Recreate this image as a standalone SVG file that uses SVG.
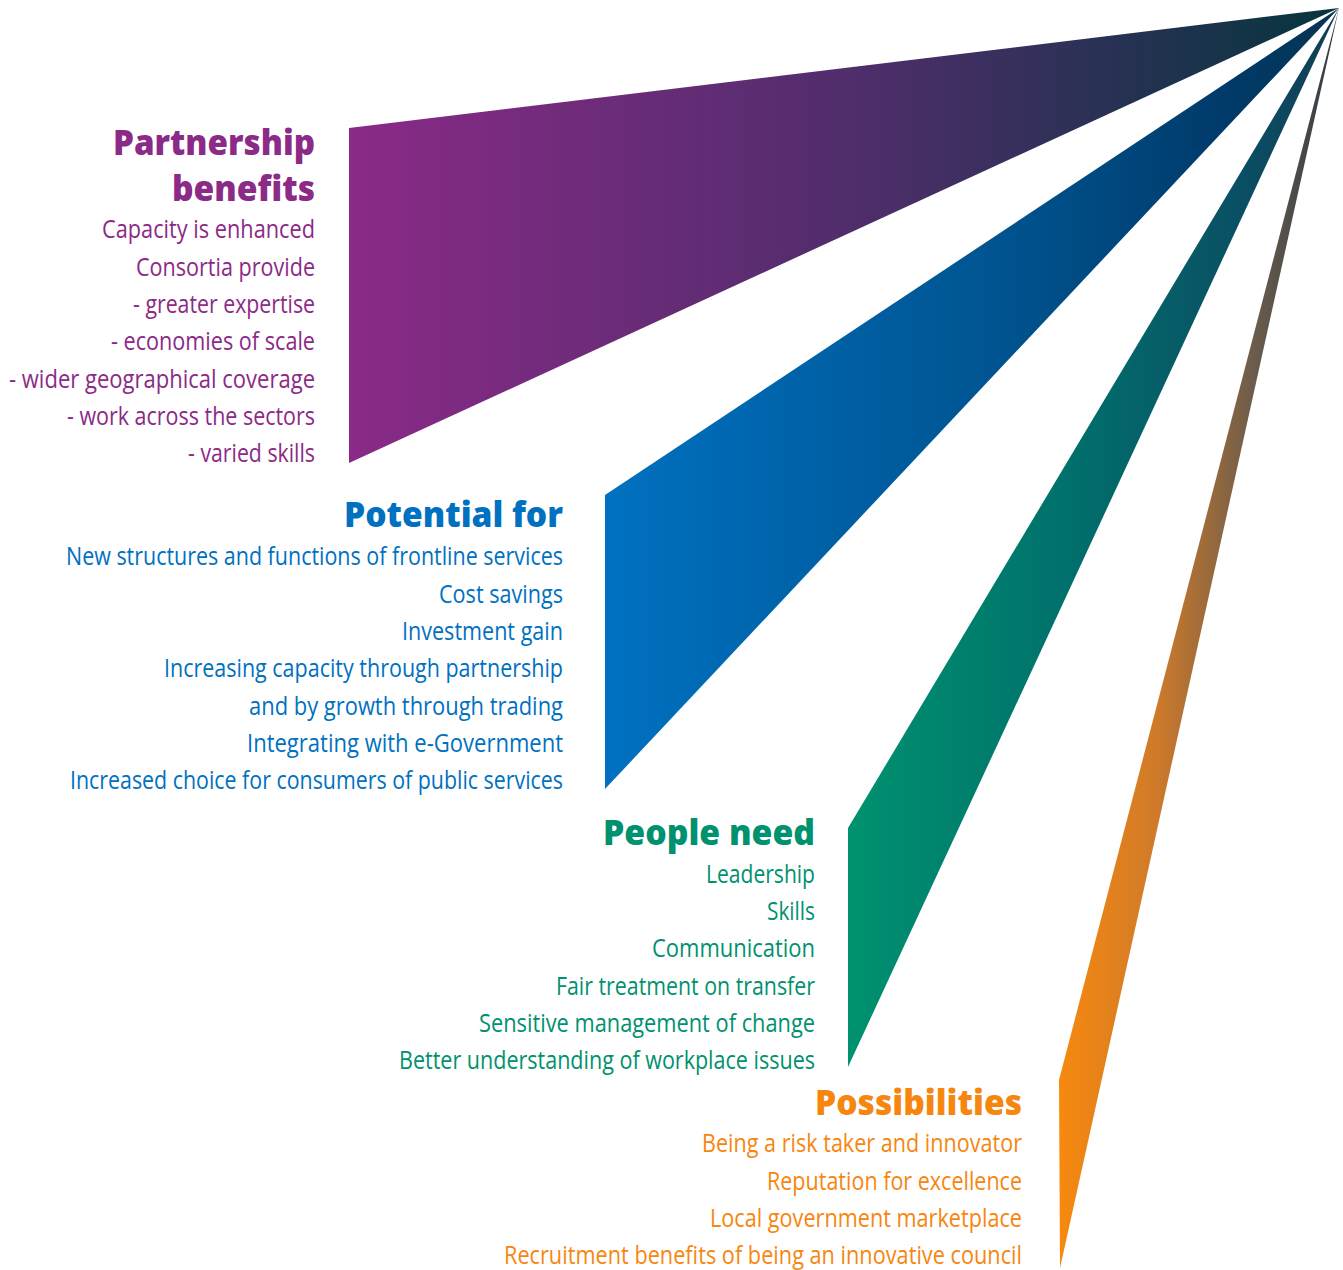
<svg xmlns="http://www.w3.org/2000/svg" width="1343" height="1270" viewBox="0 0 1343 1270">
<style>
text{font-family:"Open Sans","Noto Sans","Liberation Sans",sans-serif}
.t{font-size:36px;font-weight:800}
.b{font-size:25px;font-weight:400}
.p{fill:#8B2A87}
.bl{fill:#0071C1}
.g{fill:#00916F}
.o{fill:#F7860F}
</style>
<defs>
<linearGradient id="gp" gradientUnits="userSpaceOnUse" x1="349" y1="0" x2="1339" y2="0">
<stop offset="0" stop-color="#8A2A87"/>
<stop offset="0.5" stop-color="#512D6C"/>
<stop offset="1" stop-color="#05353E"/>
</linearGradient>
<linearGradient id="gb" gradientUnits="userSpaceOnUse" x1="605" y1="0" x2="1339" y2="0">
<stop offset="0" stop-color="#0071C1"/>
<stop offset="0.55" stop-color="#00538F"/>
<stop offset="0.85" stop-color="#003A69"/>
<stop offset="1" stop-color="#06344F"/>
</linearGradient>
<linearGradient id="gg" gradientUnits="userSpaceOnUse" x1="848" y1="0" x2="1339" y2="0">
<stop offset="0" stop-color="#00926F"/>
<stop offset="0.45" stop-color="#00706C"/>
<stop offset="0.8" stop-color="#0A4F64"/>
<stop offset="1" stop-color="#123C55"/>
</linearGradient>
<linearGradient id="go" gradientUnits="userSpaceOnUse" x1="1059" y1="0" x2="1339" y2="0">
<stop offset="0" stop-color="#F7890E"/>
<stop offset="0.35" stop-color="#CF7A2A"/>
<stop offset="0.7" stop-color="#6A5C4C"/>
<stop offset="1" stop-color="#2C3946"/>
</linearGradient>
</defs>

<g id="partnership-benefits">
<polygon points="349,128 1339,8 349,463" fill="url(#gp)"/>
<text class="t p" x="113" y="155" textLength="202" lengthAdjust="spacingAndGlyphs">Partnership</text>
<text class="t p" x="172" y="201" textLength="143" lengthAdjust="spacingAndGlyphs">benefits</text>
<text class="b p" x="102" y="238" textLength="213" lengthAdjust="spacingAndGlyphs">Capacity is enhanced</text>
<text class="b p" x="136" y="276" textLength="179" lengthAdjust="spacingAndGlyphs">Consortia provide</text>
<text class="b p" x="133" y="313" textLength="182" lengthAdjust="spacingAndGlyphs">- greater expertise</text>
<text class="b p" x="111" y="350" textLength="204" lengthAdjust="spacingAndGlyphs">- economies of scale</text>
<text class="b p" x="9" y="388" textLength="306" lengthAdjust="spacingAndGlyphs">- wider geographical coverage</text>
<text class="b p" x="67" y="425" textLength="248" lengthAdjust="spacingAndGlyphs">- work across the sectors</text>
<text class="b p" x="188" y="462" textLength="127" lengthAdjust="spacingAndGlyphs">- varied skills</text>
</g>

<g id="potential-for">
<polygon points="605,495 1339,8 605,789" fill="url(#gb)"/>
<text class="t bl" x="344" y="527" textLength="219" lengthAdjust="spacingAndGlyphs">Potential for</text>
<text class="b bl" x="66" y="565" textLength="497" lengthAdjust="spacingAndGlyphs">New structures and functions of frontline services</text>
<text class="b bl" x="439" y="603" textLength="124" lengthAdjust="spacingAndGlyphs">Cost savings</text>
<text class="b bl" x="402" y="640" textLength="161" lengthAdjust="spacingAndGlyphs">Investment gain</text>
<text class="b bl" x="164" y="677" textLength="399" lengthAdjust="spacingAndGlyphs">Increasing capacity through partnership</text>
<text class="b bl" x="249" y="715" textLength="314" lengthAdjust="spacingAndGlyphs">and by growth through trading</text>
<text class="b bl" x="247" y="752" textLength="316" lengthAdjust="spacingAndGlyphs">Integrating with e-Government</text>
<text class="b bl" x="70" y="789" textLength="493" lengthAdjust="spacingAndGlyphs">Increased choice for consumers of public services</text>
</g>

<g id="people-need">
<polygon points="848,828 1339,8 848,1067" fill="url(#gg)"/>
<text class="t g" x="603" y="845" textLength="212" lengthAdjust="spacingAndGlyphs">People need</text>
<text class="b g" x="706" y="883" textLength="109" lengthAdjust="spacingAndGlyphs">Leadership</text>
<text class="b g" x="767" y="920" textLength="48" lengthAdjust="spacingAndGlyphs">Skills</text>
<text class="b g" x="652" y="957" textLength="163" lengthAdjust="spacingAndGlyphs">Communication</text>
<text class="b g" x="556" y="995" textLength="259" lengthAdjust="spacingAndGlyphs">Fair treatment on transfer</text>
<text class="b g" x="479" y="1032" textLength="336" lengthAdjust="spacingAndGlyphs">Sensitive management of change</text>
<text class="b g" x="399" y="1069" textLength="416" lengthAdjust="spacingAndGlyphs">Better understanding of workplace issues</text>
</g>

<g id="possibilities">
<polygon points="1059,1080 1339,8 1060,1268" fill="url(#go)"/>
<text class="t o" x="815" y="1115" textLength="207" lengthAdjust="spacingAndGlyphs">Possibilities</text>
<text class="b o" x="702" y="1152" textLength="320" lengthAdjust="spacingAndGlyphs">Being a risk taker and innovator</text>
<text class="b o" x="767" y="1190" textLength="255" lengthAdjust="spacingAndGlyphs">Reputation for excellence</text>
<text class="b o" x="710" y="1227" textLength="312" lengthAdjust="spacingAndGlyphs">Local government marketplace</text>
<text class="b o" x="504" y="1264" textLength="518" lengthAdjust="spacingAndGlyphs">Recruitment benefits of being an innovative council</text>
</g>

<g id="connectors"/>
</svg>
